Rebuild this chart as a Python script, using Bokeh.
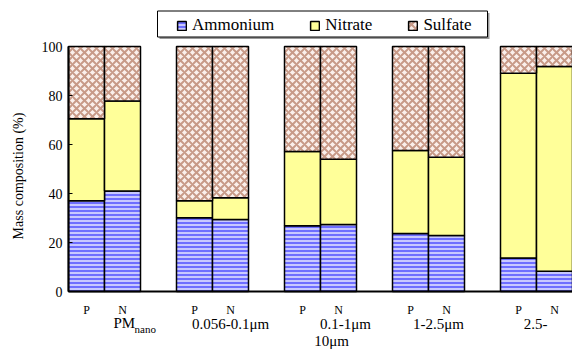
import math
from bokeh.plotting import figure
from bokeh.models import Range1d, Legend, LegendItem
from bokeh.core.properties import value
from bokeh.embed import file_html
from bokeh.resources import INLINE

# ---- data ----
groups = ["PM_nano", "0.056-0.1μm", "0.1-1μm", "1-2.5μm", "2.5-10μm"]
sites = ["P", "N"]
ammonium = [37.0, 41.0, 30.1, 29.4, 26.8, 27.3, 23.7, 22.9, 13.7, 8.3]
nitrate = [33.5, 36.8, 6.9, 8.9, 30.3, 26.7, 33.9, 31.9, 75.4, 83.5]
sulfate = [100.0 - a - n for a, n in zip(ammonium, nitrate)]
y_ticks = [0, 20, 40, 60, 80, 100]

# ---- layout (pixel geometry of the original figure) ----
W, H = 572, 351
FL, FR, FT, FB = 68, 572, 46, 291          # plot area edges in pixels
NX = 14                                    # bar slots across the plot area
PXX = (FR - FL) / NX                       # pixels per x unit
PXY = (FB - FT) / 100.0                    # pixels per y unit
FONT = "Liberation Serif"


def dx(px):
    return (px - FL) / PXX


def dy(py):
    return (FB - py) / PXY


xs = [g * 3 + s + 0.5 for g in range(len(groups)) for s in range(len(sites))]
site_labels = [sites[s] for g in range(len(groups)) for s in range(len(sites))]
amm_top = ammonium
nit_top = [a + n for a, n in zip(ammonium, nitrate)]
sul_top = [t + s for t, s in zip(nit_top, sulfate)]
zeros = [0.0] * len(xs)

p = figure(width=W, height=H, x_range=Range1d(dx(0), dx(W)), y_range=Range1d(dy(H), dy(0)),
           x_axis_type=None, y_axis_type=None,
           min_border=0, output_backend="svg", toolbar_location=None)
p.outline_line_color = None
p.grid.visible = False
p.background_fill_color = "white"
p.border_fill_color = "white"

r_a = p.vbar(x=xs, bottom=zeros, top=amm_top, width=1.0,
             fill_color="#c8c8ff", line_color="black", line_width=1.5,
             hatch_pattern="horizontal_line", hatch_color="#3a3aff", hatch_scale=4,
             hatch_weight=1.5, hatch_alpha=0.85)
r_n = p.vbar(x=xs, bottom=amm_top, top=nit_top, width=1.0,
             fill_color="#ffff99", line_color="black", line_width=1.5)
r_s = p.vbar(x=xs, bottom=nit_top, top=sul_top, width=1.0,
             fill_color="#fbf0ec", line_color="black", line_width=1.5,
             hatch_pattern="diagonal_cross", hatch_color="#c89a88", hatch_scale=8,
             hatch_weight=2)

# ---- axes (drawn through the data scales) ----
p.segment(x0=[0, 0], y0=[0, 0], x1=[0, NX], y1=[100, 0], line_color="black", line_width=2)
p.segment(x0=[0] * len(y_ticks), y0=y_ticks, x1=[4 / PXX] * len(y_ticks), y1=y_ticks,
          line_color="black", line_width=1)
p.text(x=[-6 / PXX] * len(y_ticks), y=y_ticks, text=[str(t) for t in y_ticks],
       text_align="right", text_baseline="middle", text_font=value(FONT),
       text_font_size="14px", text_color="black")
p.text(x=[dx(18)], y=[dy(175.5)], text=["Mass composition (%)"], angle=math.pi / 2,
       text_align="center", text_baseline="middle", text_font=value(FONT),
       text_font_size="14px", text_color="black")

# P / N under each bar
p.text(x=xs, y=[dy(309)] * len(xs), text=site_labels, text_align="center",
       text_baseline="alphabetic", text_font=value(FONT), text_font_size="12px", text_color="black")

# group labels (wrapped as in the original)
group_texts = ["0.056-0.1μm", "0.1-1μm", "1-2.5μm", "2.5-"]
group_px = [230, 345, 438, 535]
p.text(x=[dx(v) for v in group_px], y=[dy(323)] * len(group_px), text=group_texts,
       text_align="center", text_baseline="alphabetic", text_font=value(FONT),
       text_font_size="15px", text_color="black")
p.text(x=[dx(331)], y=[dy(340)], text=[groups[4].split("-")[1]], text_align="center",
       text_baseline="alphabetic", text_font=value(FONT), text_font_size="15px", text_color="black")
p.text(x=[dx(113)], y=[dy(322)], text=["PM"], text_align="left", text_baseline="alphabetic",
       text_font=value(FONT), text_font_size="15px", text_color="black")
p.text(x=[dx(134)], y=[dy(328)], text=["nano"], text_align="left", text_baseline="alphabetic",
       text_font=value(FONT), text_font_size="11px", text_color="black")

# ---- legend with framed box ----
p.quad(left=[dx(159)], right=[dx(489)], top=[dy(12.5)], bottom=[dy(38.5)],
       fill_color="#9a9a9a", line_color=None)
p.quad(left=[dx(157)], right=[dx(487)], top=[dy(10.5)], bottom=[dy(36.5)],
       fill_color="white", line_color="black", line_width=1)
legend = Legend(items=[LegendItem(label="Ammonium", renderers=[r_a]),
                       LegendItem(label="Nitrate", renderers=[r_n]),
                       LegendItem(label="Sulfate", renderers=[r_s])],
                orientation="horizontal", location=(176, H - 35), padding=0, spacing=35, margin=0,
                glyph_width=11, glyph_height=11, label_standoff=5, label_height=20,
                label_text_font="'Liberation Serif', serif", label_text_font_size="17px",
                label_text_color="black",
                border_line_alpha=0, background_fill_alpha=0)
p.add_layout(legend)

open("out.html", "w").write(file_html(p, INLINE))
